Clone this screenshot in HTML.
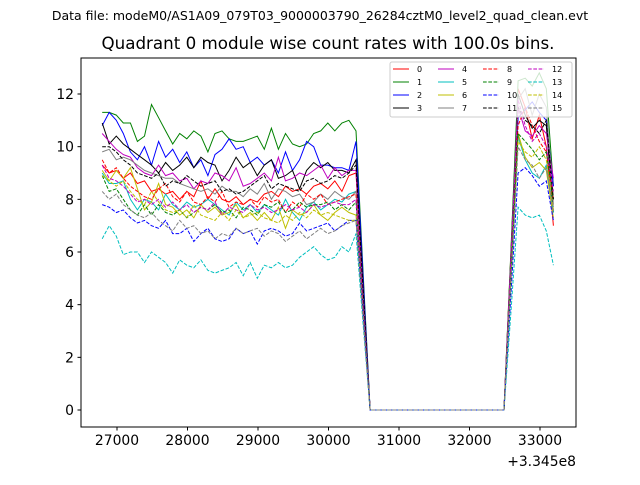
<!DOCTYPE html>
<html><head><meta charset="utf-8"><style>
body{margin:0;background:#fff;}
svg{font-family:"DejaVu Sans","Liberation Sans",sans-serif;}
</style></head><body>
<svg id="chart" width="640" height="480" xmlns="http://www.w3.org/2000/svg">
<rect width="640" height="480" fill="#fff"/>
<text x="320" y="20" font-size="12.5" text-anchor="middle">Data file: modeM0/AS1A09_079T03_9000003790_26284cztM0_level2_quad_clean.evt</text>
<text x="328" y="49" font-size="16.7" text-anchor="middle">Quadrant 0 module wise count rates with 100.0s bins.</text>
<g id="plot"></g>
<rect x="81" y="58" width="495" height="369" fill="none" stroke="#000" stroke-width="1"/>
<g id="axes"></g>
<text x="576" y="466" font-size="13.9" text-anchor="end">+3.345e8</text>
<g id="legend"></g>
</svg>
<script>
const t0 = 26790, step = 100;
const xTicks = [27000,28000,29000,30000,31000,32000,33000];
const yTicks = [0,2,4,6,8,10,12];
const colors = ['#ff0000','#008000','#0000ff','#000000','#bf00bf','#00bfbf','#bfbf00','#808080'];
const seg1 = [
[9.3,9.0,9.1,8.8,9.0,8.6,8.7,8.3,8.4,8.2,8.3,8.0,8.3,8.1,8.7,8.0,8.4,8.0,7.9,8.1,7.8,8.0,7.9,8.2,8.3,8.1,8.5,8.3,8.4,8.2,8.5,8.6,8.4,8.7,8.3,8.9,9.0],
[11.3,11.3,11.2,10.9,10.9,10.2,10.4,11.6,11.1,10.6,10.1,10.5,10.3,10.6,10.4,9.8,10.5,10.6,10.3,10.2,10.2,10.3,10.4,9.9,10.7,9.9,10.5,10.1,10.0,10.1,10.5,10.6,10.9,10.6,10.9,11.0,10.6],
[10.8,11.3,11.0,10.5,9.8,9.5,10.0,9.3,10.2,9.6,9.9,9.4,9.8,9.2,9.5,8.9,9.7,9.9,10.3,9.9,10.0,9.4,9.6,9.3,9.5,9.0,9.8,9.1,9.5,10.2,10.0,9.3,9.3,9.2,9.2,9.1,10.2],
[10.9,10.1,10.4,10.1,9.9,9.7,9.5,9.3,9.0,9.4,9.1,9.3,9.6,9.2,9.6,9.4,9.3,8.7,9.1,9.6,9.2,9.4,8.9,9.3,9.5,8.8,8.9,9.1,8.4,9.1,9.4,9.2,9.4,9.1,9.1,9.0,9.5],
[10.5,10.2,9.9,9.7,9.6,9.2,9.0,8.9,9.3,8.9,9.0,8.7,8.8,8.4,8.7,8.6,9.0,8.9,8.7,9.2,8.5,8.6,8.8,9.0,8.7,9.6,8.7,8.8,9.0,8.9,9.1,9.3,8.8,9.2,8.9,9.1,9.1],
[9.0,8.6,8.6,8.7,8.0,7.6,8.0,7.9,7.6,8.2,7.8,7.6,7.9,7.7,7.8,8.0,7.8,7.6,7.4,7.9,7.6,7.8,7.5,7.8,7.6,7.4,8.0,7.5,7.2,7.7,7.9,7.6,7.8,8.0,7.9,8.2,8.3],
[9.1,8.7,9.1,8.8,9.2,8.4,7.6,7.9,8.6,7.8,7.7,7.4,7.6,7.3,7.8,7.5,7.7,7.4,7.5,7.8,7.3,7.5,7.2,7.5,7.2,7.7,6.9,7.6,7.4,7.5,7.8,7.4,7.2,7.5,7.7,7.5,7.4],
[9.8,9.9,9.5,9.6,9.5,9.3,9.1,9.0,8.9,8.8,8.8,8.6,8.5,8.4,8.3,8.4,8.2,8.5,8.3,8.3,8.1,8.4,8.2,8.6,8.0,8.4,8.3,8.1,8.2,7.8,7.9,8.2,8.0,8.3,8.1,8.0,8.3],
[9.5,9.0,9.2,8.8,8.5,8.3,8.1,8.0,8.4,8.6,8.1,7.9,8.3,7.9,7.8,8.1,7.9,8.3,7.7,7.9,7.8,8.0,7.7,8.1,7.9,8.0,7.5,7.9,7.7,8.2,8.0,8.2,7.8,7.9,8.0,8.1,8.2],
[8.9,8.3,8.4,8.0,7.6,7.4,7.8,7.4,7.8,7.5,7.4,7.6,7.3,7.5,7.7,7.6,7.8,7.5,7.6,7.3,7.7,7.6,7.4,7.8,7.7,7.9,7.5,7.6,7.9,7.7,7.8,7.8,7.9,7.6,7.8,7.6,7.9],
[7.8,7.7,7.5,7.6,7.3,7.1,7.2,7.0,6.9,7.2,6.7,6.7,6.9,6.4,6.7,6.9,6.5,6.4,6.5,6.9,6.7,6.8,6.3,6.8,6.9,6.8,6.6,6.7,7.1,6.8,6.9,7.0,7.1,6.8,7.0,7.2,7.2],
[10.0,10.0,9.8,9.5,9.3,9.0,8.9,8.8,9.0,8.5,8.7,8.6,8.9,8.7,8.5,8.6,8.7,8.3,8.4,8.2,8.3,8.5,8.7,8.9,8.4,8.6,8.5,8.4,8.3,8.7,8.8,8.6,8.7,8.9,8.8,9.0,9.3],
[9.3,8.8,8.7,8.5,8.2,7.9,8.0,7.8,8.0,7.7,7.9,7.6,7.8,7.5,7.7,7.6,7.9,7.4,7.7,7.6,7.5,7.8,7.6,7.7,7.5,7.6,7.8,7.6,7.7,7.5,7.8,7.7,7.8,7.9,7.8,7.8,8.0],
[6.5,7.0,6.6,5.9,6.0,6.0,5.6,6.0,5.8,5.6,5.2,5.7,5.5,5.4,5.7,5.3,5.2,5.3,5.4,5.6,5.1,5.6,5.0,5.5,5.4,5.6,5.4,5.5,5.8,6.0,6.2,5.9,5.7,5.8,6.2,6.0,6.7],
[8.9,8.7,8.5,8.7,8.3,8.0,7.8,8.3,7.9,7.6,7.5,7.6,7.3,7.8,7.4,7.3,7.2,7.5,7.2,7.6,7.3,7.4,7.5,7.3,7.2,7.1,7.4,7.2,7.5,7.3,7.6,7.4,7.5,7.4,7.3,7.2,7.2],
[8.3,8.0,8.2,7.8,7.6,7.4,7.3,7.5,7.2,7.0,6.8,7.2,6.9,7.0,6.7,6.8,6.5,6.7,6.6,6.9,6.7,6.8,6.9,6.6,6.8,6.7,6.4,6.6,6.8,6.5,6.7,6.9,6.7,6.8,7.0,7.1,7.2]];
const midA = [4.4,5.3,5.1,4.7,4.5,4.1,3.7,4.1,4.1,3.9,3.6,4.6,4.0,3.3,3.6,3.6];
const zeroRun = [0,0,0,0,0,0,0,0,0,0,0,0,0,0,0,0,0,0,0,0];
const midB = [6.1,6.2,5.5,6.0,5.7,5.2,5.2,5.9,5.4,5.2,4.5,5.7,5.9,3.8,5.1,5.0];
const tail = [
[12.2,11.5,10.3,11.2,10.0,7.0],[12.5,12.6,12.3,12.8,12.2,8.5],[11.1,11.4,11.7,11.3,11.0,8.5],[12.0,11.2,10.7,11.0,10.8,7.5],
[11.5,10.6,10.4,10.8,10.5,8.8],[10.4,9.5,9.0,8.8,9.3,7.5],[10.5,9.6,9.2,9.4,9.1,7.3],[11.8,12.2,11.2,12.0,11.5,7.8],
[10.8,11.5,10.8,10.2,9.8,8.0],[10.5,10.2,9.9,9.5,9.8,8.0],[9.0,9.2,8.9,8.5,8.7,7.2],[11.5,11.0,10.8,10.5,11.0,8.0],
[11.8,10.8,10.2,10.5,10.0,8.3],[7.7,7.4,7.3,7.4,6.8,5.5],[10.2,9.8,9.6,10.0,9.5,7.6],[10.0,9.5,9.3,8.8,9.2,7.5]];

const X = t => 117 + (t - 27000) * 0.0705;
const Y = v => 410 - v * 26.333;
const NS = 'http://www.w3.org/2000/svg';
const plot = document.getElementById('plot');
const axes = document.getElementById('axes');
const legend = document.getElementById('legend');
function mk(tag, attrs, parent){const e=document.createElementNS(NS,tag);for(const k in attrs)e.setAttribute(k,attrs[k]);parent.appendChild(e);return e;}

for (let k = 0; k < 16; k++) {
  const vals = seg1[k].concat([midA[k]], zeroRun, [midB[k]], tail[k]);
  const pts = vals.map((v,i)=>X(t0+i*step).toFixed(1)+','+Y(v).toFixed(1)).join(' ');
  const pl = mk('polyline',{points:pts,fill:'none',stroke:colors[k%8],'stroke-width':1},plot);
  if (k >= 8) pl.setAttribute('stroke-dasharray','3.7,1.6');
  
  
}
xTicks.forEach(t=>{
  const x = X(t);
  const l = mk('line',{x1:x,x2:x,y1:427,y2:430.5,stroke:'#000'},axes);
  
  
  const tx = mk('text',{x:x,y:445,'font-size':13.9,'text-anchor':'middle'},axes);
  tx.textContent = t;
  
  
});
yTicks.forEach(v=>{
  const y = Y(v);
  const l = mk('line',{x1:77.5,x2:81,y1:y,y2:y,stroke:'#000'},axes);
  
  
  const tx = mk('text',{x:74,y:y+5,'font-size':13.9,'text-anchor':'end'},axes);
  tx.textContent = v;
  
  
});
const lb = mk('rect',{x:390,y:62,width:182,height:55,rx:2,fill:'#fff','fill-opacity':0.8,stroke:'#ccc','stroke-width':1},legend);


for (let k = 0; k < 16; k++) {
  const col = Math.floor(k/4), row = k%4;
  const x = 393 + col*45, y = 69 + row*13;
  const l = mk('line',{x1:x,x2:x+16,y1:y,y2:y,stroke:colors[k%8],'stroke-width':1},legend);
  if (k >= 8) l.setAttribute('stroke-dasharray','3.7,1.6');
  
  
  const tx = mk('text',{x:x+24,y:y+3,'font-size':8},legend);
  tx.textContent = k;
  
  
}
</script>
</body></html>
